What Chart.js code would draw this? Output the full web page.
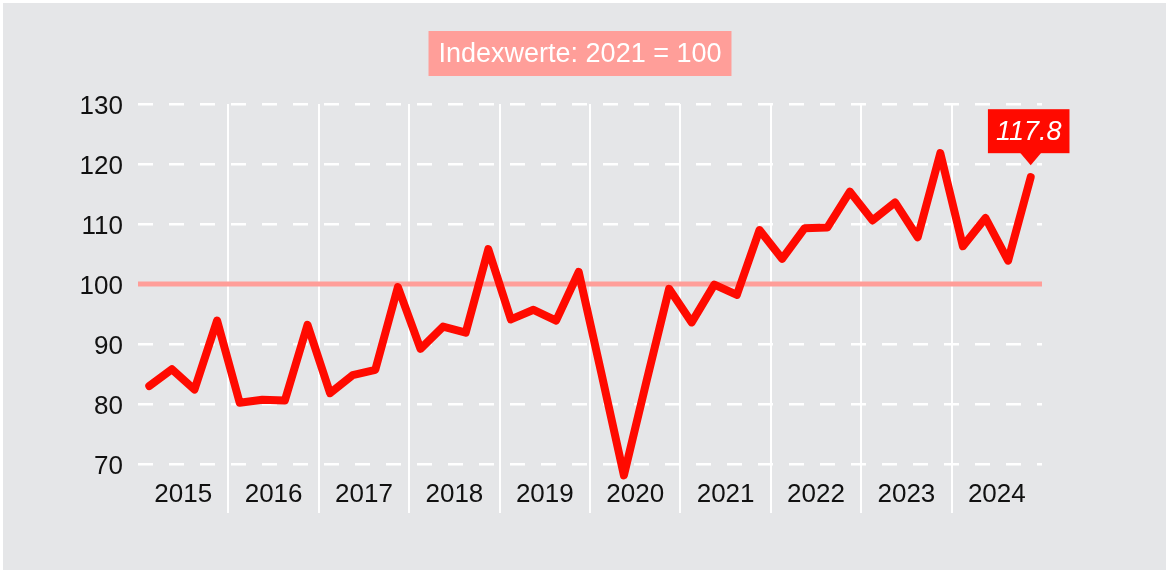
<!DOCTYPE html>
<html>
<head>
<meta charset="utf-8">
<script src="https://cdn.jsdelivr.net/npm/chart.js@4"></script>
<style>
  html, body { margin: 0; padding: 0; background: #ffffff; }
  #wrap { position: relative; width: 1166px; height: 570px; overflow: hidden; }
  #bg { position: absolute; left: 3px; top: 3px; right: 0; bottom: 0; background: #e5e6e8; }
  #chart { position: absolute; left: 0; top: 0; }
</style>
</head>
<body>
<div id="wrap">
  <div id="bg"></div>
  <canvas id="chart" width="1166" height="570"></canvas>
</div>
<script>
// Quartalswerte 2015 Q1 - 2024 Q4, Index 2021 = 100
const years = ['2015', '2016', '2017', '2018', '2019', '2020', '2021', '2022', '2023', '2024'];
const values = [
    83.0, 85.8, 82.4, 93.9,
    80.2, 80.7, 80.6, 93.2,
    81.8, 84.8, 85.7, 99.5,
    89.2, 92.9, 91.9, 105.8,
    94.1, 95.7, 93.9, 102.0,
    85.2, 68.1, 83.8, 99.2,
    93.6, 99.9, 98.2, 109.0,
    104.2, 109.3, 109.4, 115.4,
    110.6, 113.6, 107.8, 121.8,
    106.3, 111.0, 103.9, 117.8
];
const yTicks = [70, 80, 90, 100, 110, 120, 130];
const refValue = 100;
const titleText = 'Indexwerte: 2021 = 100';

const FONT = "'Liberation Sans', Arial, sans-serif";
const RED = 'rgb(255, 10, 0)';
const PINK = '#ff9e99';

// quarter i sits in the middle of its slot on a 0..40 axis
const points = values.map((v, i) => ({ x: i + 0.5, y: v }));

const refLine = {
    id: 'refLine',
    beforeDatasetsDraw(chart) {
        const { ctx, chartArea, scales } = chart;
        const y = scales.y.getPixelForValue(refValue);
        ctx.save();
        ctx.strokeStyle = PINK;
        ctx.lineWidth = 5;
        ctx.beginPath();
        ctx.moveTo(chartArea.left, y);
        ctx.lineTo(chartArea.right, y);
        ctx.stroke();
        ctx.restore();
    }
};

const titleBox = {
    id: 'titleBox',
    afterDraw(chart) {
        const ctx = chart.ctx;
        ctx.save();
        ctx.font = '27px ' + FONT;
        const w = ctx.measureText(titleText).width + 20;
        const cx = 580, top = 31, h = 45;
        ctx.fillStyle = PINK;
        ctx.fillRect(cx - w / 2, top, w, h);
        ctx.fillStyle = '#ffffff';
        ctx.textAlign = 'center';
        ctx.textBaseline = 'middle';
        ctx.fillText(titleText, cx, top + h / 2 + 1);
        ctx.restore();
    }
};

const lastLabel = {
    id: 'lastLabel',
    afterDatasetsDraw(chart) {
        const ctx = chart.ctx;
        const meta = chart.getDatasetMeta(0);
        const pt = meta.data[meta.data.length - 1];
        const txt = values[values.length - 1].toFixed(1);
        ctx.save();
        ctx.font = 'italic 27px ' + FONT;
        const w = ctx.measureText(txt).width + 16;
        const h = 44;
        const bottom = pt.y - 24;
        const cx = pt.x - 2;
        ctx.fillStyle = RED;
        ctx.fillRect(cx - w / 2, bottom - h, w, h);
        ctx.beginPath();
        ctx.moveTo(pt.x - 11, bottom - 1);
        ctx.lineTo(pt.x + 11, bottom - 1);
        ctx.lineTo(pt.x, bottom + 12);
        ctx.closePath();
        ctx.fill();
        ctx.fillStyle = '#ffffff';
        ctx.textAlign = 'center';
        ctx.textBaseline = 'middle';
        ctx.fillText(txt, cx, bottom - h / 2 + 1);
        ctx.restore();
    }
};

new Chart(document.getElementById('chart'), {
    type: 'line',
    data: {
        datasets: [{
            data: points,
            borderColor: RED,
            borderWidth: 8,
            borderJoinStyle: 'round',
            borderCapStyle: 'round',
            pointRadius: 0,
            tension: 0,
            clip: false
        }]
    },
    options: {
        responsive: false,
        animation: false,
        devicePixelRatio: 1,
        layout: { padding: { left: 0, top: 104, right: 124, bottom: 0 } },
        plugins: {
            legend: { display: false },
            tooltip: { enabled: false }
        },
        scales: {
            x: {
                type: 'linear',
                min: 0,
                max: 40,
                afterBuildTicks: (scale) => {
                    scale.ticks = years.map((y, i) => ({ value: i * 4 + 2 }));
                },
                afterFit: (scale) => { scale.height = 106; },
                ticks: {
                    callback: (value, index) => years[index],
                    color: '#111111',
                    font: { family: FONT, size: 26 },
                    padding: -34,
                    maxRotation: 0,
                    autoSkip: false
                },
                grid: {
                    offset: true,
                    color: (c) => (c.type !== 'tick' || c.index === 0) ? 'rgba(0,0,0,0)' : '#ffffff',
                    tickColor: (c) => (c.type !== 'tick' || c.index === 0) ? 'rgba(0,0,0,0)' : '#ffffff',
                    lineWidth: 2,
                    drawTicks: true,
                    tickLength: 49
                },
                border: { display: false }
            },
            y: {
                min: 70,
                max: 130,
                afterBuildTicks: (scale) => {
                    scale.ticks = yTicks.map(v => ({ value: v }));
                },
                afterFit: (scale) => { scale.width = 138; },
                ticks: {
                    color: '#111111',
                    font: { family: FONT, size: 26 },
                    padding: 15,
                    labelOffset: 3
                },
                grid: {
                    color: '#ffffff',
                    lineWidth: 2.5,
                    drawTicks: false,
                    borderDash: [15, 16]
                },
                border: { display: false, dash: [15, 16] }
            }
        }
    },
    plugins: [refLine, titleBox, lastLabel]
});
</script>
</body>
</html>
